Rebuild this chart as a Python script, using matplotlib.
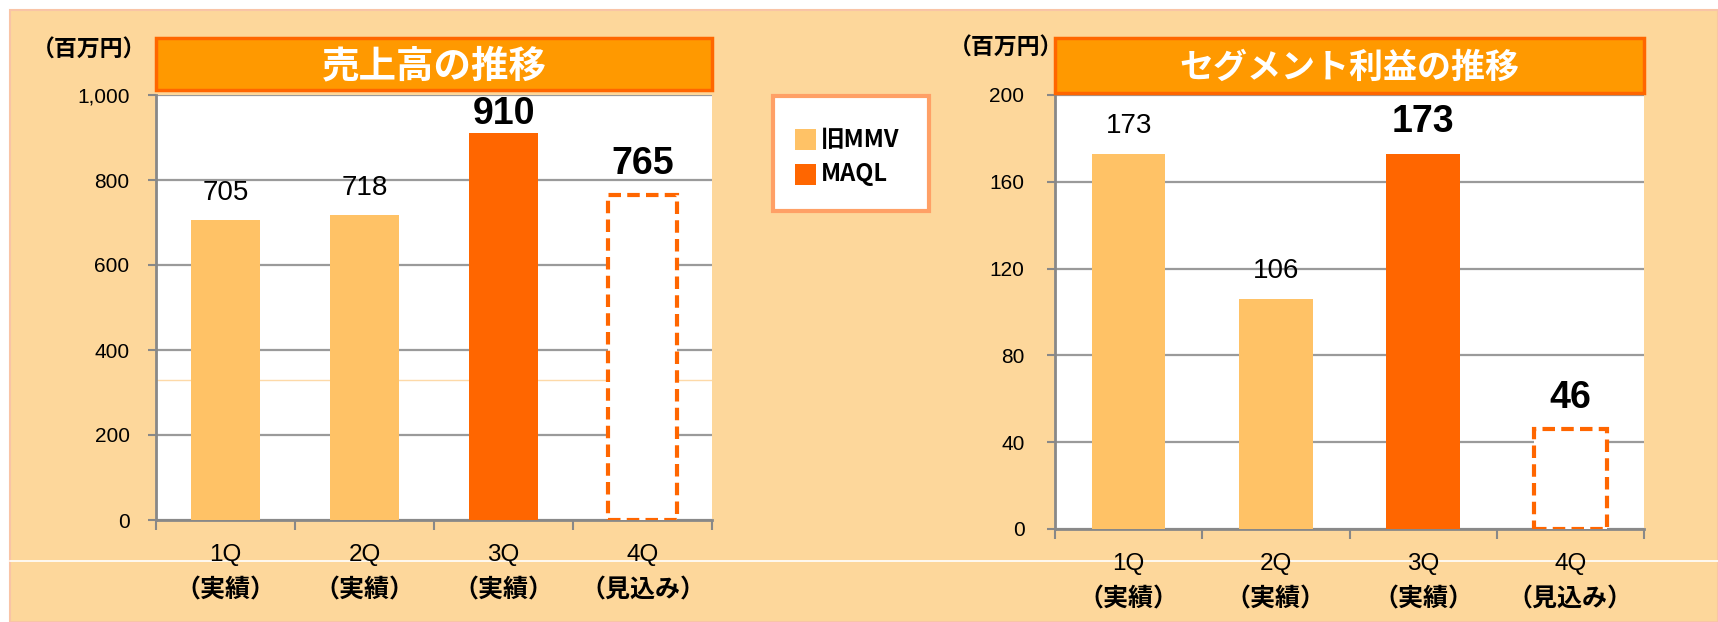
import matplotlib
matplotlib.use('Agg')
import matplotlib.pyplot as plt
from matplotlib.patches import Rectangle
from matplotlib.lines import Line2D
from matplotlib.ticker import FuncFormatter
import matplotlib.transforms as mtransforms

plt.rcParams['font.family'] = ['Liberation Sans', 'Noto Sans CJK JP', 'DejaVu Sans']
JP = ['Noto Sans CJK JP', 'DejaVu Sans']

# data
quarters = ['1Q', '2Q', '3Q', '4Q']
quarter_notes = ['（実績）', '（実績）', '（実績）', '（見込み）']
sales = [705, 718, 910, 765]
profit = [173, 106, 173, 46]
bar_kind = ['old', 'old', 'maql', 'forecast']
highlight = [False, False, True, True]
legend_labels = ['旧MMV', 'MAQL']
unit_label = '（百万円）'
titles = ['売上高の推移', 'セグメント利益の推移']

BG = '#FDD79B'
LIGHT = '#FFC266'
DARK = '#FF6600'
TITLE_FILL = '#FF9900'
GRID = '#9A9A9A'

W, H = 1718, 622
fig = plt.figure(figsize=(W / 100, H / 100), dpi=100)
fig.patch.set_facecolor('white')


def rect(x0, y0, x1, y1):
    # pixel box (top-left origin) -> figure fraction [l, b, w, h]
    return [x0 / W, 1 - y1 / H, (x1 - x0) / W, (y1 - y0) / H]


def fx(x):
    return x / W


def fy(y):
    return 1 - y / H


# orange backdrop, kept under the axes
fig.patches.append(Rectangle((fx(10), 0), 1 - fx(10), fy(10), transform=fig.transFigure,
                             facecolor=BG, edgecolor='#F9C4A6', linewidth=1.5, zorder=-2))
fig.lines.append(Line2D([fx(10), 1], [fy(561), fy(561)], transform=fig.transFigure,
                        color='white', linewidth=1.2, zorder=-1))


def draw_chart(box, title_box, values, ymax, step, tick_fmt, tick_pad):
    ax = fig.add_axes(rect(*box))
    ax.set_facecolor('white')
    x = list(range(len(values)))
    for i, v in enumerate(values):
        kind = bar_kind[i]
        if kind == 'forecast':
            ax.bar(i, v, width=0.5, facecolor='white', edgecolor=DARK, linewidth=3,
                   linestyle=(0, (3, 1.5)), zorder=3)
        else:
            ax.bar(i, v, width=0.5, color=LIGHT if kind == 'old' else DARK, zorder=3)
        if highlight[i]:
            ax.text(i, min(v + ymax * 0.072, ymax * 0.955), f'{v}', ha='center', va='center',
                    fontsize=27, fontweight='bold', color='black', zorder=4)
        else:
            ax.text(i, v + ymax * 0.064, f'{v}', ha='center', va='center',
                    fontsize=20, color='black', zorder=4)

    ax.set_xlim(-0.5, len(values) - 0.5)
    ax.set_ylim(0, ymax)
    ax.set_yticks(range(0, ymax + 1, step))
    ax.yaxis.set_major_formatter(FuncFormatter(tick_fmt))
    ax.grid(axis='y', color=GRID, linewidth=1.6, zorder=1)
    ax.set_axisbelow(True)
    for s in ['top', 'right']:
        ax.spines[s].set_visible(False)
    for s in ['left', 'bottom']:
        ax.spines[s].set_color('#888888')
        ax.spines[s].set_linewidth(2)
    ax.tick_params(axis='y', length=6, width=1.5, color='#888888', labelsize=15, pad=tick_pad)

    ax.set_xticks(x)
    ax.set_xticklabels(quarters, fontsize=17.5)
    ax.tick_params(axis='x', which='major', length=0, pad=17)
    ax.set_xticks([i - 0.5 for i in range(len(values) + 1)], minor=True)
    ax.tick_params(axis='x', which='minor', length=7, width=1.5, color='#888888')

    trans = mtransforms.blended_transform_factory(ax.transData, ax.transAxes)
    for i, note in enumerate(quarter_notes):
        ax.annotate(note, xy=(i, 0), xycoords=trans, xytext=(0, -51),
                    textcoords='offset points', ha='center', va='center',
                    fontsize=18, fontweight='bold', family=JP)

    # title banner
    tax = fig.add_axes(rect(*title_box))
    tax.set_xlim(0, 1)
    tax.set_ylim(0, 1)
    tax.axis('off')
    tax.add_patch(Rectangle((0, 0), 1, 1, facecolor=TITLE_FILL, edgecolor=DARK,
                            linewidth=2.5, transform=tax.transAxes, clip_on=False))
    return ax, tax


ax1, t1 = draw_chart((156, 95, 712, 520), (156, 38, 712, 90), sales, 1000, 200,
                     lambda v, p: f'{int(v):,}', 13)
t1.text(0.5, 0.47, titles[0], ha='center', va='center', fontsize=27,
        fontweight='bold', color='white', family=JP)
# faint line artifact in left plot
ax1.axhline(330, color='#FDD9A8', linewidth=1, zorder=2)

ax2, t2 = draw_chart((1055, 95, 1644, 529), (1055, 38, 1644, 93), profit, 200, 40,
                     lambda v, p: f'{int(v)}', 16)
t2.text(0.5, 0.47, titles[1], ha='center', va='center', fontsize=24.5,
        fontweight='bold', color='white', family=JP)

fig.text(fx(89), fy(50), unit_label, ha='center', va='center', fontsize=16.5,
         fontweight='bold', family=JP)
fig.text(fx(1006), fy(48), unit_label, ha='center', va='center', fontsize=16.5,
         fontweight='bold', family=JP)

# legend box
lax = fig.add_axes(rect(773, 96, 929, 211))
lax.set_xlim(0, 1)
lax.set_ylim(0, 1)
lax.axis('off')
lax.add_patch(Rectangle((0, 0), 1, 1, facecolor='white', edgecolor='#FFA066',
                        linewidth=3, transform=lax.transAxes, clip_on=False))
for j, (lab, col) in enumerate(zip(legend_labels, [LIGHT, DARK])):
    yc = 0.62 - j * 0.30
    lax.add_patch(Rectangle((0.14, yc - 0.09), 0.135, 0.18, facecolor=col, edgecolor='none'))
    lax.text(0.305, yc, lab, ha='left', va='center', fontsize=17, fontweight='bold',
             family=['Noto Sans CJK JP', 'Liberation Sans'])

fig.savefig('out.png', dpi=100, facecolor=fig.get_facecolor())
